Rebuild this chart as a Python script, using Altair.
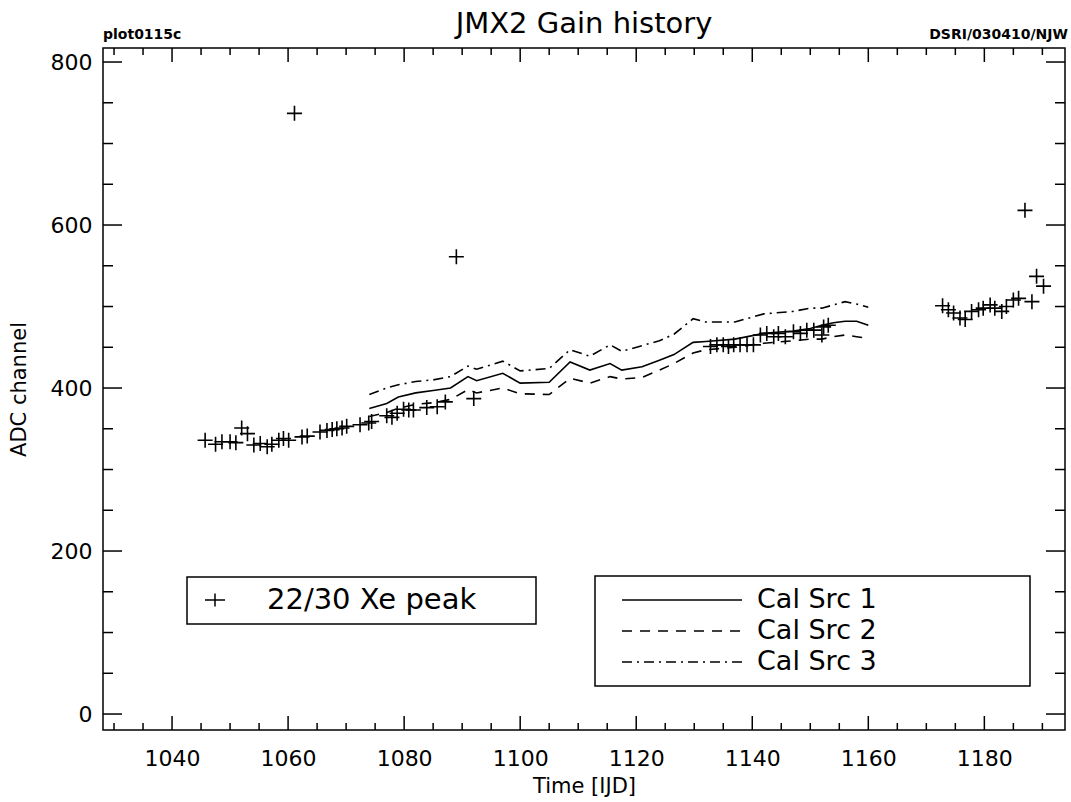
import altair as alt
import pandas as pd

# ---------------- data ----------------
xe_time = [1045.7, 1047.5, 1048.6, 1050.0, 1051.0, 1052.0, 1053.0, 1054.1, 1055.2, 1056.4,
           1057.2, 1058.4, 1059.2, 1060.1, 1061.1, 1062.4, 1063.3, 1065.5, 1066.7, 1067.6,
           1068.4, 1069.3, 1070.1, 1072.4, 1073.9, 1074.4, 1077.0, 1077.9, 1078.8, 1079.9,
           1080.8, 1081.6, 1083.9, 1085.7, 1087.1, 1089.0, 1092.0,
           1132.8, 1133.9, 1135.0, 1135.9, 1136.8, 1137.9, 1139.1, 1140.2, 1141.4, 1142.5,
           1143.7, 1144.5, 1145.7, 1147.1, 1148.3, 1149.4, 1150.6, 1152.0, 1152.3, 1153.1,
           1172.8, 1173.8, 1174.7, 1175.8, 1176.7, 1177.8, 1179.0, 1179.8, 1181.0, 1181.8,
           1183.0, 1183.8, 1185.0, 1185.9, 1187.0, 1188.2, 1189.0, 1190.2]
xe_adc = [336, 331, 334, 334, 333, 351, 344, 330, 332, 328,
          331, 336, 338, 336, 737, 340, 341, 346, 348, 349,
          350, 351, 353, 355, 357, 359, 366, 364, 369, 374,
          373, 373, 376, 377, 383, 561, 387,
          451, 453, 453, 451, 453, 453, 453, 453, 465, 467,
          463, 467, 463, 469, 467, 471, 471, 465, 475, 477,
          501, 496, 492, 486, 484, 494, 496, 498, 502, 498,
          494, 500, 508, 510, 618, 506, 537, 525]

cal_time = [1074, 1077, 1079, 1082, 1085, 1088, 1091, 1092.5, 1097, 1100,
            1105, 1108.6, 1112, 1115.5, 1117.5, 1121, 1124, 1126.5, 1129.8, 1132,
            1137, 1142, 1147, 1150, 1152, 1154, 1156, 1158, 1160]
cal_src1 = [375, 381, 389, 394, 397, 400, 414, 409, 418, 406,
            407, 432, 422, 430, 422, 426, 434, 441, 456, 457,
            460, 467, 470, 473, 477, 480, 482, 482, 477]
cal_src2 = [365, 370, 375, 380, 382, 386, 398, 394, 400, 393,
            392, 412, 406, 414, 411, 413, 422, 430, 443, 447,
            450, 455, 458, 460, 460, 463, 465, 463, 461]
cal_src3 = [392, 400, 404, 408, 410, 414, 427, 423, 433, 421,
            424, 447, 439, 453, 445, 452, 458, 466, 485, 481,
            481, 491, 494, 498, 498, 502, 506, 503, 499]

x_major = [1040, 1060, 1080, 1100, 1120, 1140, 1160, 1180]
x_minor = [v for v in range(1030, 1195, 5) if v not in x_major]
y_major = [0, 200, 400, 600, 800]
y_minor = [v for v in range(50, 800, 50) if v not in y_major]

title_text = "JMX2 Gain history"
left_note = "plot0115c"
right_note = "DSRI/030410/NJW"
legend1_label = "22/30 Xe peak"
legend2_labels = ["Cal Src 1", "Cal Src 2", "Cal Src 3"]

# ---------------- layout ----------------
W, H = 962, 682
FONT = "DejaVu Sans"
xs = alt.Scale(domain=[1028.1, 1193.9], nice=False, zero=False)
ys = alt.Scale(domain=[-19.6, 817.2], nice=False, zero=False)

AX = alt.Axis(
    values=x_major, ticks=False, domain=False, grid=False, format="d",
    labelFont=FONT, labelFontSize=22, labelColor="black", labelPadding=18,
    labelOverlap=False, labelFlush=False,
    title="Time [IJD]", titleFont=FONT, titleFontSize=21, titleFontWeight="normal",
    titleColor="black", titlePadding=6)
AY = alt.Axis(
    values=y_major, ticks=False, domain=False, grid=False, format="d",
    labelFont=FONT, labelFontSize=22, labelColor="black", labelPadding=11,
    labelOverlap=False, labelFlush=False,
    title="ADC channel", titleFont=FONT, titleFontSize=21, titleFontWeight="normal",
    titleColor="black", titlePadding=21)

pts_df = pd.DataFrame({"t": xe_time, "adc": xe_adc})

points = alt.Chart(pts_df).mark_point(
    shape="M-1,0L1,0M0,-1L0,1", size=225, filled=False, stroke="black",
    strokeWidth=1.6, opacity=1
).encode(
    x=alt.X("t:Q", scale=xs, axis=AX),
    y=alt.Y("adc:Q", scale=ys, axis=AY),
)


def cal_line(vals, dash):
    df = pd.DataFrame({"t": cal_time, "adc": vals})
    kw = dict(color="black", strokeWidth=1.6)
    if dash:
        kw["strokeDash"] = dash
    return alt.Chart(df).mark_line(**kw).encode(
        x=alt.X("t:Q", scale=xs, axis=AX),
        y=alt.Y("adc:Q", scale=ys, axis=AY),
    )


line1 = cal_line(cal_src1, None)
line2 = cal_line(cal_src2, [10, 8])
line3 = cal_line(cal_src3, [10, 5, 2, 5])


def xticks(vals, length, top):
    df = pd.DataFrame({"t": vals})
    y0 = 0 if top else H
    y1 = length if top else H - length
    return alt.Chart(df).mark_rule(color="black", strokeWidth=1.5).encode(
        x=alt.X("t:Q", scale=xs, axis=AX), y=alt.value(y0), y2=alt.value(y1))


def yticks(vals, length, right):
    df = pd.DataFrame({"adc": vals})
    x0 = W if right else 0
    x1 = W - length if right else length
    return alt.Chart(df).mark_rule(color="black", strokeWidth=1.5).encode(
        y=alt.Y("adc:Q", scale=ys, axis=AY), x=alt.value(x0), x2=alt.value(x1))


ticks = [
    xticks(x_major, 14, False), xticks(x_minor, 7, False),
    xticks(x_major, 14, True), xticks(x_minor, 7, True),
    yticks(y_major, 19, False), yticks(y_minor, 10, False),
    yticks(y_major, 19, True), yticks(y_minor, 10, True),
]

one = pd.DataFrame({"a": [0]})


def label(txt, x, y, size, align="left", weight="normal", baseline="alphabetic"):
    return alt.Chart(pd.DataFrame({"txt": [txt]})).mark_text(
        font=FONT, fontSize=size, fontWeight=weight, align=align, baseline=baseline,
        color="black"
    ).encode(text="txt:N", x=alt.value(x), y=alt.value(y))


texts = [
    label(title_text, W / 2, -15, 29, align="center"),
    label(left_note, 0, -9, 14, weight="bold"),
    label(right_note, 965, -9, 14, align="right", weight="bold"),
]

# legend 1
box1 = alt.Chart(one).mark_rect(filled=False, stroke="black", strokeWidth=1.5).encode(
    x=alt.value(84), x2=alt.value(433), y=alt.value(529), y2=alt.value(576))
leg1_sym = alt.Chart(one).mark_point(
    shape="M-1,0L1,0M0,-0.65L0,0.65", size=400, filled=False, stroke="black",
    strokeWidth=1.5, opacity=1).encode(x=alt.value(112), y=alt.value(552))
leg1_txt = label(legend1_label, 164, 552, 29, baseline="middle")

# legend 2
box2 = alt.Chart(one).mark_rect(filled=False, stroke="black", strokeWidth=1.5).encode(
    x=alt.value(492), x2=alt.value(927), y=alt.value(528), y2=alt.value(638))
leg_rows = [552, 583, 614]
leg_dashes = [None, [10, 8], [10, 5, 2, 5]]
leg2 = []
for yy, dash, lab in zip(leg_rows, leg_dashes, legend2_labels):
    kw = dict(color="black", strokeWidth=1.5)
    if dash:
        kw["strokeDash"] = dash
    leg2.append(alt.Chart(one).mark_rule(**kw).encode(
        x=alt.value(519), x2=alt.value(639), y=alt.value(yy), y2=alt.value(yy)))
    leg2.append(label(lab, 654, yy, 27, baseline="middle"))

chart = alt.layer(
    points, line1, line2, line3, *ticks, *texts, box1, leg1_sym, leg1_txt, box2, *leg2
).properties(
    width=W, height=H,
    autosize=alt.AutoSizeParams(type="none"),
    padding={"left": 103, "top": 48, "right": 6, "bottom": 72},
    background="white",
).configure_view(stroke="black", strokeWidth=1.5)

chart.save("out.html", embed_options={"renderer": "svg", "actions": False})
